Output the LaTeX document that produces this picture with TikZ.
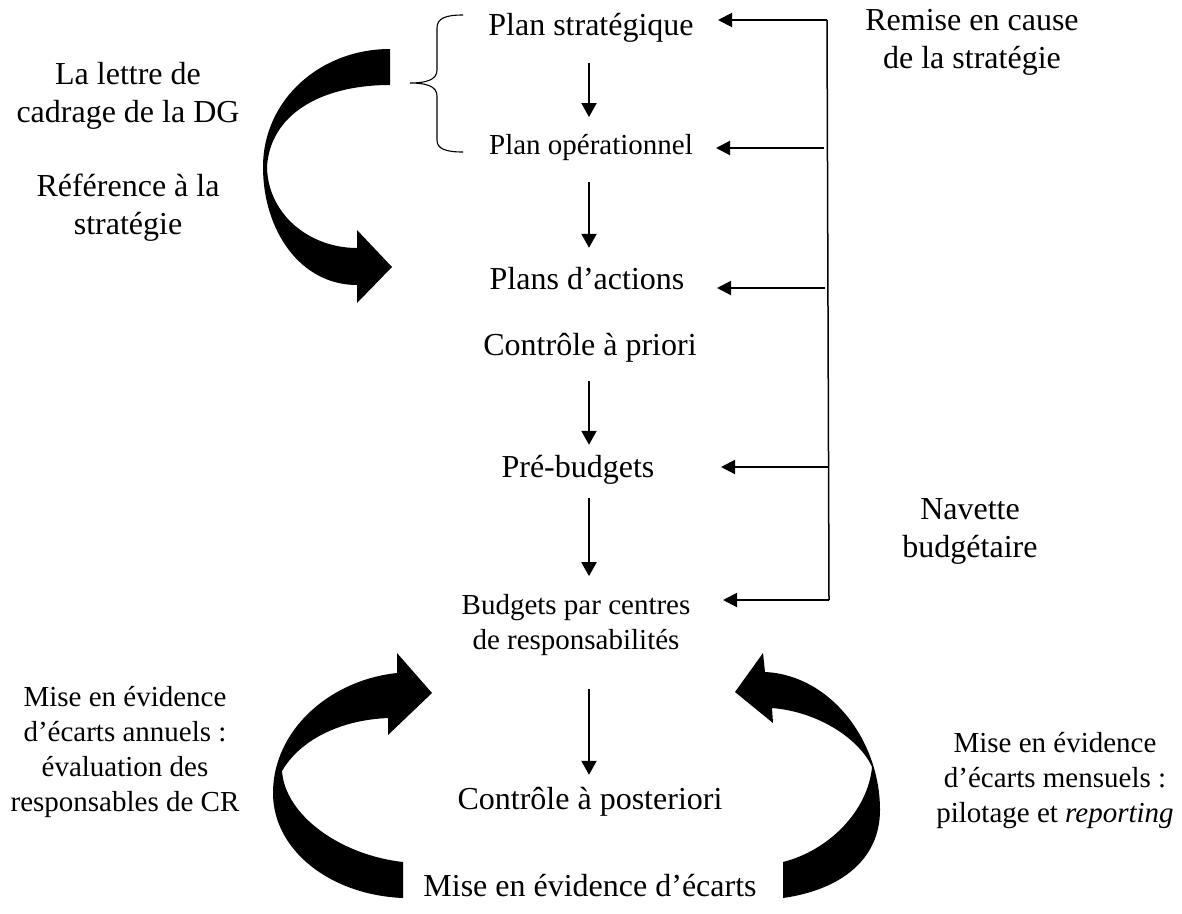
\documentclass[tikz,border=0pt]{standalone}
\usepackage{fontspec}
\setmainfont{Liberation Serif}
\usetikzlibrary{arrows.meta}
\begin{document}
\begin{tikzpicture}[x=1pt,y=-1pt,
  big/.style={inner sep=0pt, font=\fontsize{32}{37}\selectfont, text height=22pt, text depth=7pt},
  small/.style={inner sep=0pt, font=\fontsize{29}{34}\selectfont, text height=20pt, text depth=6.5pt},
  bigm/.style={inner sep=0pt, font=\fontsize{32}{38}\selectfont, align=center},
  smallm/.style={inner sep=0pt, font=\fontsize{29}{35}\selectfont, align=center},
  flow/.style={line width=2pt, -{Triangle[length=14pt,width=15pt]}},
  back/.style={line width=2pt, -{Triangle[length=14pt,width=14pt]}},
  rail/.style={line width=1.5pt},
  brace/.style={line width=1.1pt},
  block/.style={fill=black, draw=none}]
\useasboundingbox (0,0) rectangle (1182,913);

% main chain
\node[big]   (ps)    at (591,28)  {Plan stratégique};
\node[small] (po)    at (591,148) {Plan opérationnel};
\node[big]   (pa)    at (587,282) {Plans d’actions};
\node[big]   (cp)    at (590,348) {Contrôle à priori};
\node[big]   (pb)    at (578,470) {Pré-budgets};
\node[smallm](bc)    at (576,625) {Budgets par centres\\de responsabilités};
\node[big]   (cpost) at (590,802) {Contrôle à posteriori};
\node[big]   (mee)   at (590,889) {Mise en évidence d’écarts};

% side labels
\node[bigm]   (lettre)  at (128,96)  {La lettre de\\cadrage de la DG};
\node[bigm]   (ref)     at (128,208) {Référence à la\\stratégie};
\node[bigm]   (remise)  at (972,42)  {Remise en cause\\de la stratégie};
\node[bigm]   (navette) at (970,531) {Navette\\budgétaire};
\node[smallm] (annuel)  at (125,752) {Mise en évidence\\d’écarts annuels :\\évaluation des\\responsables de CR};
\node[smallm] (mensuel) at (1055,781) {Mise en évidence\\d’écarts mensuels :\\pilotage et \textit{reporting}};

% downward flow along a common vertical axis
\coordinate (axis) at (589,0);
\draw[flow, shorten <=20.5pt, shorten >=17.5pt] (axis |- ps.south) -- (axis |- po.north);
\draw[flow, shorten <=20.5pt, shorten >=19.5pt] (axis |- po.south) -- (axis |- pa.north);
\draw[flow, shorten <=18.5pt, shorten >=10.5pt] (axis |- cp.south) -- (axis |- pb.north);
\draw[flow, shorten <=13.5pt, shorten >=18pt]   (axis |- pb.south) -- (axis |- bc.north);
\draw[flow, shorten <=33pt,   shorten >=12.5pt] (axis |- bc.south) -- (axis |- cpost.north);

% feedback rail on the right
\coordinate (r1) at (827,20);
\coordinate (r2) at (824,148);
\coordinate (r3) at (825,288);
\coordinate (r4) at (828,467);
\coordinate (r5) at (829,600);
\coordinate (t1) at (718,20);
\coordinate (t2) at (716,148);
\coordinate (t3) at (717,288);
\coordinate (t4) at (721,467);
\coordinate (t5) at (723,600);
\draw[rail] (r5) -- (r1);
\draw[back] (r1) -- (t1);
\draw[back] (r2) -- (t2);
\draw[back] (r3) -- (t3);
\draw[back] (r4) -- (t4);
\draw[back] (r5) -- (t5);

% brace grouping the two plans
\draw[brace] (463,15) .. controls (446,15) and (437,18) .. (437,28) -- (437,70)
  .. controls (437,80) and (426,83) .. (410,83)
  .. controls (426,83) and (437,86) .. (437,96) -- (437,140)
  .. controls (437,149) and (446,152) .. (463,152);

% curved block arrow, top left
\fill[block] (390,49) .. controls (320,49) and (263,100) .. (263,167)
  .. controls (263,230) and (300,285) .. (357,285)
  -- (357,303) -- (392,267) -- (357,230) -- (357,248)
  .. controls (310,248) and (268,215) .. (267,167)
  .. controls (270,115) and (320,85) .. (390,85) -- cycle;

% curved block arrow, bottom left
\fill[block] (397,673) .. controls (330,680) and (273,730) .. (273,793)
  .. controls (273,850) and (330,895) .. (403,898)
  -- (403,862)
  .. controls (340,855) and (285,815) .. (282,771)
  .. controls (300,740) and (340,720) .. (388,718)
  -- (388,735) -- (432,693) -- (397,653) -- cycle;

% curved block arrow, bottom right
\fill[block] (765,672) .. controls (830,675) and (880,740) .. (880,810)
  .. controls (880,860) and (840,890) .. (783,898)
  -- (783,862)
  .. controls (830,850) and (868,810) .. (872,767)
  .. controls (860,740) and (820,712) .. (772,708)
  -- (773,723) -- (735,692) -- (763,653) -- cycle;
\end{tikzpicture}
\end{document}
